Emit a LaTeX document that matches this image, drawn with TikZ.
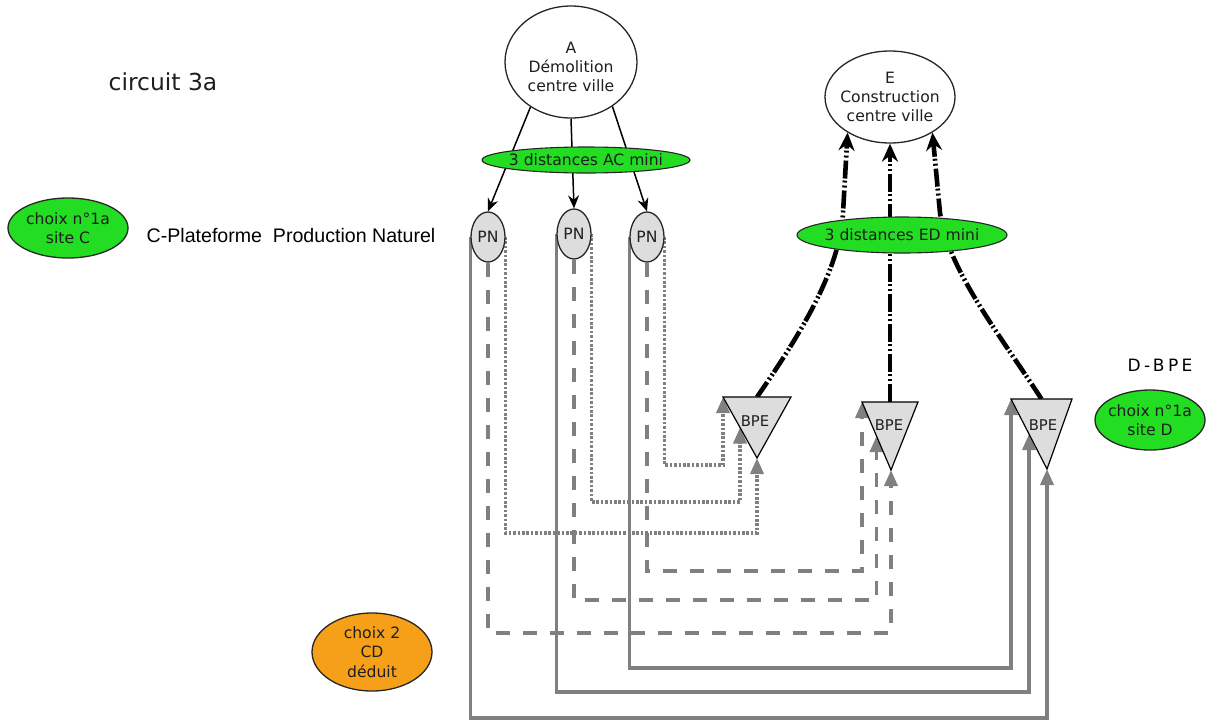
\documentclass[tikz,border=0pt]{standalone}
\usepackage{fontspec}
\setmainfont{DejaVu Sans}
\newfontfamily\plainsans{Liberation Sans}
\newfontfamily\spacedsans[LetterSpace=20]{DejaVu Sans}
\usetikzlibrary{arrows.meta,calc,shapes.geometric}
\definecolor{linegray}{RGB}{128,128,128}
\definecolor{nodegray}{RGB}{221,221,221}
\definecolor{choicegreen}{RGB}{34,221,34}
\definecolor{choiceorange}{RGB}{246,160,26}
\definecolor{inktext}{RGB}{30,30,30}
\pgfdeclarelayer{back}
\pgfsetlayers{back,main}

\begin{document}
\begin{tikzpicture}[x=0.5pt,y=-0.5pt,
  every node/.style={font=\fontsize{7.8}{9.7}\selectfont, text=inktext, align=center, inner sep=0pt},
  oval/.style={ellipse, draw=black!85, line width=0.65pt, inner xsep=-5pt, inner ysep=-4pt},
  pn/.style={oval, fill=nodegray, minimum width=17pt, minimum height=25pt},
  mini/.style={oval, line width=0.55pt, fill=choicegreen},
  choice/.style={oval, line width=0.65pt},
  bpe/.style={draw=black, line width=0.6pt, fill=nodegray, line join=miter},
  feed/.style={draw=black, line width=0.75pt, -{Stealth[length=6.5pt,width=5.5pt]}},
  graylink/.style={draw=linegray, line width=1.8pt, -{Triangle[length=8pt,width=6.5pt]}},
  solidlink/.style={graylink},
  dashlink/.style={graylink, dash pattern=on 7pt off 6.5pt},
  dotlink/.style={graylink, dash pattern=on 1.3pt off 0.9pt},
  supply/.style={draw=black, line width=2.3pt,
    dash pattern=on 9pt off 1.5pt on 1pt off 1.5pt on 1pt off 1pt,
    -{Stealth[length=9pt,width=8pt,inset=3pt]}},
]
\useasboundingbox (0,0) rectangle (1215,724);

% titles and free labels
\node[font=\fontsize{11.7}{14}\selectfont] (title) at (163,82) {circuit 3a};
\node[font=\plainsans\fontsize{9.8}{12}\selectfont, text=black] (plat) at (291,235) {C-Plateforme~~Production Naturel};
\node[font=\spacedsans\fontsize{8.5}{10}\selectfont, text=black] (dbpe) at (1160,365) {D-BPE};

% choice ellipses
\node[choice, fill=choicegreen, minimum width=60pt, minimum height=30pt] (cC) at (68,228) {choix n°1a\\site C};
\node[choice, fill=choicegreen, minimum width=55pt, minimum height=30pt] (cD) at (1150,420) {choix n°1a\\site D};
\node[choice, fill=choiceorange, minimum width=60pt, minimum height=39pt] (c2) at (372,652) {choix 2\\CD\\déduit};

% demolition and construction sites
\node[oval, fill=white, minimum width=66pt, minimum height=56pt,
      label={[yshift=-2.5pt]center:{A\\Démolition\\centre ville}}] (A) at (571,62) {};
\node[oval, fill=white, minimum width=65pt, minimum height=46pt] (E) at (890,97) {E\\Construction\\centre ville};

% distance ellipses
\node[mini, minimum width=104pt, minimum height=13pt] (AC) at (586,160) {3 distances AC mini};
\node[mini, minimum width=105pt, minimum height=18pt] (ED) at (902,235) {3 distances ED mini};

% natural production platforms
\node[pn] (P1) at (488,237) {PN};
\node[pn] (P2) at (574,234) {PN};
\node[pn] (P3) at (647,237) {PN};

% BPE triangles
\coordinate (B1l) at (723,397); \coordinate (B1r) at (791,397); \coordinate (B1a) at (757,458);
\coordinate (B2l) at (862,402); \coordinate (B2r) at (918,402); \coordinate (B2a) at (891,470);
\coordinate (B3l) at (1011,399); \coordinate (B3r) at (1072,399); \coordinate (B3a) at (1047,469);
\path[bpe] (B1l) -- (B1r) -- (B1a) -- cycle;
\path[bpe] (B2l) -- (B2r) -- (B2a) -- cycle;
\path[bpe] (B3l) -- (B3r) -- (B3a) -- cycle;
\node[font=\fontsize{7.4}{9}\selectfont] (B1) at (755,421) {BPE};
\node[font=\fontsize{7.4}{9}\selectfont] (B2) at (889,425) {BPE};
\node[font=\fontsize{7.4}{9}\selectfont] (B3) at (1043,425) {BPE};
\foreach \b in {1,2,3} {
  \coordinate (B\b n) at ($(B\b l)!0.5!(B\b r)$);
  \coordinate (B\b s) at ($(B\b l)!0.5!(B\b a)$);
}

% levels of the horizontal runs
\coordinate (d1) at (0,465); \coordinate (d2) at (0,502); \coordinate (d3) at (0,533);
\coordinate (k1) at (0,571); \coordinate (k2) at (0,600); \coordinate (k3) at (0,633);
\coordinate (s1) at (0,668); \coordinate (s2) at (0,692); \coordinate (s3) at (0,718);

\begin{pgfonlayer}{back}
  % demolition to platforms
  \draw[feed] (A.228) -- (P1.north);
  \draw[feed] (A.south) -- (P2.north);
  \draw[feed] (A.-47) -- (P3.north);

  % platforms to first BPE (dotted)
  \draw[dotlink] (P3.east) -- (P3.east |- d1) -| (B1l);
  \draw[dotlink] (P2.east) -- (P2.east |- d2) -| (B1s);
  \draw[dotlink] (P1.east) -- (P1.east |- d3) -| (B1a);

  % platforms to second BPE (dashed)
  \draw[dashlink] (P3.south) -- (P3.south |- k1) -| (B2l);
  \draw[dashlink] (P2.south) -- (P2.south |- k2) -| (B2s);
  \draw[dashlink] (P1.south) -- (P1.south |- k3) -| (B2a);

  % platforms to third BPE (solid)
  \draw[solidlink] (P3.west) -- (P3.west |- s1) -| (B3l);
  \draw[solidlink] (P2.west) -- (P2.west |- s2) -| (B3s);
  \draw[solidlink] (P1.west) -- (P1.west |- s3) -| (B3a);

  % BPE to construction site
  \draw[supply] (B1n) .. controls (800,335) and (840,270) .. (843,213) -- (E.220);
  \draw[supply] (B2n) -- (E.south);
  \draw[supply] (B3n) .. controls (1000,335) and (948,270) .. (940,213) -- (E.-40);
\end{pgfonlayer}
\end{tikzpicture}
\end{document}
